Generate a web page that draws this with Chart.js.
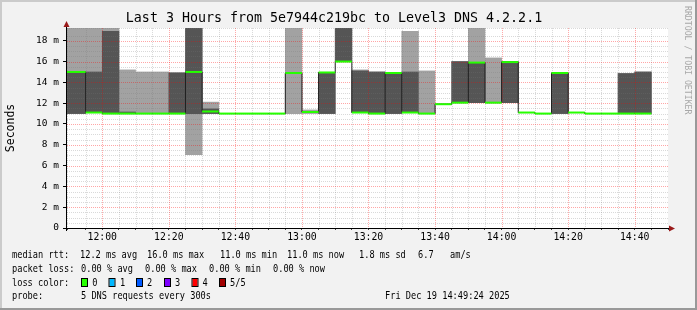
<!DOCTYPE html>
<html>
<head>
<meta charset="utf-8">
<script src="https://cdn.jsdelivr.net/npm/chart.js@4.4.1/dist/chart.umd.min.js"></script>
<style>
  html, body { margin: 0; padding: 0; background: #f2f2f2; }
  canvas { display: block; }
</style>
</head>
<body>
<canvas id="myChart" width="697" height="310"></canvas>
<script>
// 5 minute slots (start of each interval)
var slots = ['11:45','11:50','11:55','12:00','12:05','12:10','12:15','12:20','12:25','12:30',
             '12:35','12:40','12:45','12:50','12:55','13:00','13:05','13:10','13:15','13:20',
             '13:25','13:30','13:35','13:40','13:45','13:50','13:55','14:00','14:05','14:10',
             '14:15','14:20','14:25','14:30','14:35','14:40','14:45'];

// median rtt per slot, ms
var median  = [15.0, 15.0, 11.1, 11.0, 11.0, 11.0, 11.0, 11.0, 15.0, 11.2,
               11.0, 11.0, 11.0, 11.0, 14.9, 11.15, 14.95, 16.0, 11.1, 11.0,
               14.9, 11.1, 11.0, 11.9, 12.05, 15.9, 12.05, 15.95, 11.1, 11.0,
               14.9, 11.1, 11.0, 11.0, 11.0, 11.0, null];
// smoke: outer pings (light) and inner pings (dark)
var pingMin = [11.0, 11.0, 11.1, 11.0, 11.0, 11.0, 11.0, 11.0, 7.05, 11.0,
               11.0, 11.0, 11.0, 11.0, 11.0, 11.0, 11.0, 16.0, 11.1, 11.0,
               11.0, 11.1, 11.0, 11.9, 12.05, 12.05, 12.05, 12.05, 11.1, 11.0,
               11.0, 11.1, 11.0, 11.0, 11.0, 11.0, null];
var pingLow = [11.0, 11.0, 11.1, 11.0, 11.0, 11.0, 11.0, 11.0, 11.0, 11.0,
               11.0, 11.0, 11.0, 11.0, 14.9, 11.1, 11.0, 16.0, 11.1, 11.0,
               11.0, 11.1, 11.0, 11.9, 12.05, 12.05, 12.05, 12.05, 11.1, 11.0,
               11.0, 11.1, 11.0, 11.0, 11.0, 11.0, null];
var pingHigh = [15.0, 15.0, 15.0, 18.9, 11.15, 11.0, 11.0, 14.9, 20.5, 11.45,
                11.0, 11.0, 11.0, 11.0, 14.9, 11.2, 14.95, 20.5, 15.1, 15.0,
                14.9, 15.0, 11.0, 11.9, 16.0, 15.9, 12.05, 16.0, 11.1, 11.0,
                14.9, 11.1, 11.0, 11.0, 14.85, 15.0, null];
var pingMax = [21.0, 21.0, 20.5, 20.0, 15.2, 15.0, 15.0, 14.95, 21.0, 12.1,
               11.0, 11.0, 11.0, 11.0, 21.0, 11.35, 14.95, 21.0, 15.2, 15.0,
               14.9, 18.9, 15.1, 11.9, 16.0, 21.0, 16.35, 16.0, 11.1, 11.0,
               14.9, 11.1, 11.0, 11.0, 14.85, 15.0, null];

var tickLabels = ['12:00','12:20','12:40','13:00','13:20','13:40','14:00','14:20','14:40'];
var axisStart = '11:49:24';
var axisEnd = '14:50:00';
var stepMinutes = 5;

var title = 'Last 3 Hours from 5e7944c219bc to Level3 DNS 4.2.2.1';
var mono = 'DejaVu Sans Mono';

// minutes relative to 12:00
function toMinutes(t) {
    var p = t.split(':').map(Number);
    return (p[0] - 12) * 60 + p[1] + (p[2] || 0) / 60;
}

var xs = slots.map(function (s) { return toMinutes(s) + stepMinutes / 2; });

function pairs(lo, hi) {
    return xs.map(function (x, i) {
        return { x: x, y: lo[i] === null ? null : [lo[i], hi[i]] };
    });
}
var medianPts = xs.map(function (x, i) { return { x: x, y: median[i] }; });

function isMajorY(v) { return Math.abs(v / 2 - Math.round(v / 2)) < 1e-6; }
function isMajorX(v) { return v % 20 === 0; }

var minorGrid = 'rgba(120,120,120,0.28)';
var majorGrid = 'rgba(255,0,0,0.35)';

function drawGrid(chart) {
    var ctx = chart.ctx, a = chart.chartArea, x = chart.scales.x, y = chart.scales.y;
    ctx.save();
    ctx.beginPath();
    ctx.rect(a.left, a.top, a.right - a.left, a.bottom - a.top);
    ctx.clip();
    ctx.lineWidth = 1;
    ctx.setLineDash([1, 1]);
    [false, true].forEach(function (major) {
        ctx.strokeStyle = major ? majorGrid : minorGrid;
        x.ticks.forEach(function (t) {
            if (isMajorX(t.value) !== major) return;
            var px = Math.round(x.getPixelForValue(t.value)) + 0.5;
            ctx.beginPath(); ctx.moveTo(px, a.top); ctx.lineTo(px, a.bottom); ctx.stroke();
        });
        y.ticks.forEach(function (t) {
            if (isMajorY(t.value) !== major) return;
            var py = Math.round(y.getPixelForValue(t.value)) + 0.5;
            ctx.beginPath(); ctx.moveTo(a.left, py); ctx.lineTo(a.right, py); ctx.stroke();
        });
    });
    ctx.restore();
}

var legendRows = [
    [258.3, [[12, 'median rtt:'], [80, '12.2 ms avg'], [147, '16.0 ms max'], [220, '11.0 ms min'],
             [287, '11.0 ms now'], [359, '1.8 ms sd'], [418, '6.7'], [450, 'am/s']]],
    [271.8, [[12, 'packet loss:'], [81, '0.00 % avg'], [145, '0.00 % max'], [209, '0.00 % min'], [273, '0.00 % now']]],
    [285.8, [[12, 'loss color:'], [92.3, '0'], [120, '1'], [147, '2'], [175, '3'], [202.5, '4'], [230, '5/5']]],
    [299.3, [[12, 'probe:'], [81, '5 DNS requests every 300s'], [385, 'Fri Dec 19 14:49:24 2025']]]
];
var lossBoxes = [[82, '#26ff00'], [109.5, '#00b8ff'], [137, '#0059ff'], [165, '#7e00ff'], [192.5, '#ff0000'], [220, '#a10000']];

var smokeping = {
    id: 'smokeping',
    beforeDraw: function (chart) {
        var c = chart.ctx, a = chart.chartArea, w = chart.width, h = chart.height;
        c.save();
        c.fillStyle = '#f2f2f2'; c.fillRect(0, 0, w, h);
        c.fillStyle = '#cbcbcb'; c.fillRect(0, 0, w, 2); c.fillRect(0, 0, 2, h);
        c.fillStyle = '#999999'; c.fillRect(0, h - 2, w, 2); c.fillRect(w - 2, 0, 2, h);
        c.fillStyle = '#ffffff'; c.fillRect(a.left, a.top, a.right - a.left, a.bottom - a.top);
        c.restore();
    },
    afterDatasetDraw: function (chart, args) {
        if (args.index === 1) drawGrid(chart);
    },
    afterDraw: function (chart) {
        var c = chart.ctx, a = chart.chartArea;
        c.save();
        // axes
        c.strokeStyle = '#000'; c.lineWidth = 1;
        c.beginPath();
        c.moveTo(a.left - 1, a.bottom + 0.5); c.lineTo(a.right + 1, a.bottom + 0.5);
        c.moveTo(a.left - 0.5, a.bottom + 3); c.lineTo(a.left - 0.5, a.top - 2);
        c.stroke();
        c.fillStyle = '#9a1a1a';
        c.beginPath();
        c.moveTo(a.right + 1, a.bottom - 2.5); c.lineTo(a.right + 7, a.bottom + 0.5); c.lineTo(a.right + 1, a.bottom + 3.5);
        c.closePath(); c.fill();
        c.beginPath();
        c.moveTo(a.left - 3.5, a.top - 1); c.lineTo(a.left - 0.5, a.top - 7); c.lineTo(a.left + 2.5, a.top - 1);
        c.closePath(); c.fill();

        // legend text
        c.fillStyle = '#000';
        c.font = '10.6px "' + mono + '"';
        c.textBaseline = 'alphabetic';
        c.textAlign = 'left';
        legendRows.forEach(function (row) {
            row[1].forEach(function (seg) {
                c.fillText(seg[1], seg[0], row[0], seg[1].length * 5.2);
            });
        });
        lossBoxes.forEach(function (b) {
            c.fillStyle = b[1];
            c.fillRect(b[0], 278.5, 5, 8);
            c.strokeStyle = '#000';
            c.strokeRect(b[0] - 0.5, 278.5, 6, 8);
        });

        // watermark
        c.translate(687, 6);
        c.rotate(Math.PI / 2);
        c.fillStyle = '#a8a8a8';
        c.font = '8.2px "' + mono + '"';
        c.textBaseline = 'middle';
        c.fillText('RRDTOOL / TOBI OETIKER', 0, 0);
        c.restore();
    }
};

var config = {
    type: 'bar',
    data: {
        datasets: [{
            label: 'smoke outer',
            data: pairs(pingMin, pingMax),
            backgroundColor: '#a2a2a2',
            borderWidth: 0,
            grouped: false,
            barPercentage: 1,
            categoryPercentage: 1,
            order: 4
        }, {
            label: 'smoke inner',
            data: pairs(pingLow, pingHigh),
            backgroundColor: '#555555',
            borderWidth: 0,
            grouped: false,
            barPercentage: 1,
            categoryPercentage: 1,
            order: 3
        }, {
            type: 'line',
            label: 'median step',
            data: medianPts,
            stepped: 'middle',
            borderColor: '#202020',
            borderWidth: 1,
            pointRadius: 0,
            clip: 0,
            order: 2
        }, {
            type: 'line',
            label: 'median',
            data: medianPts,
            showLine: false,
            pointStyle: 'line',
            pointRadius: function (ctx) {
                var x = ctx.chart.scales.x;
                return (x.getPixelForValue(stepMinutes) - x.getPixelForValue(0)) / 2;
            },
            pointBorderColor: '#26ff00',
            pointBackgroundColor: '#26ff00',
            pointBorderWidth: 2,
            clip: 0,
            order: 1
        }]
    },
    options: {
        responsive: false,
        animation: false,
        devicePixelRatio: 1,
        events: [],
        layout: { padding: { left: 0, right: 29, top: 0, bottom: 0 } },
        plugins: {
            legend: { display: false },
            tooltip: { enabled: false },
            title: {
                display: true,
                text: title,
                color: '#000',
                font: { family: mono, size: 13.3, weight: 'normal', lineHeight: 1.2 },
                padding: { top: 11, bottom: 1 }
            }
        },
        scales: {
            x: {
                type: 'linear',
                min: toMinutes(axisStart),
                max: toMinutes(axisEnd),
                offset: false,
                border: { display: false },
                grid: {
                    offset: false,
                    drawOnChartArea: false,
                    drawTicks: true,
                    tickLength: 2,
                    tickColor: '#444'
                },
                ticks: {
                    stepSize: 5,
                    autoSkip: false,
                    maxRotation: 0,
                    minRotation: 0,
                    padding: 1.5,
                    color: '#000',
                    font: { family: mono, size: 9.8 },
                    callback: function (v) {
                        return (isMajorX(v) && v >= 0) ? tickLabels[v / 20] : '';
                    }
                },
                afterFit: function (s) { s.height = 82; }
            },
            y: {
                min: 0,
                max: 19.23,
                border: { display: false },
                grid: {
                    drawOnChartArea: false,
                    drawTicks: true,
                    tickLength: 4,
                    tickColor: function (ctx) {
                        return isMajorY(ctx.tick.value) ? '#000' : 'rgba(0,0,0,0)';
                    }
                },
                ticks: {
                    stepSize: 0.5,
                    autoSkip: false,
                    padding: 4,
                    color: '#000',
                    font: { family: mono, size: 9.5 },
                    callback: function (v) {
                        if (!isMajorY(v)) return '';
                        return v === 0 ? '0' : Math.round(v) + ' m';
                    }
                },
                title: {
                    display: true,
                    text: 'Seconds',
                    color: '#000',
                    font: { family: mono, size: 11.5, lineHeight: 1.2 },
                    padding: { top: 4.1, bottom: 0 }
                },
                afterFit: function (s) { s.width = 67; }
            }
        }
    },
    plugins: [smokeping]
};

var myChart = new Chart(document.getElementById('myChart'), config);
</script>
</body>
</html>
